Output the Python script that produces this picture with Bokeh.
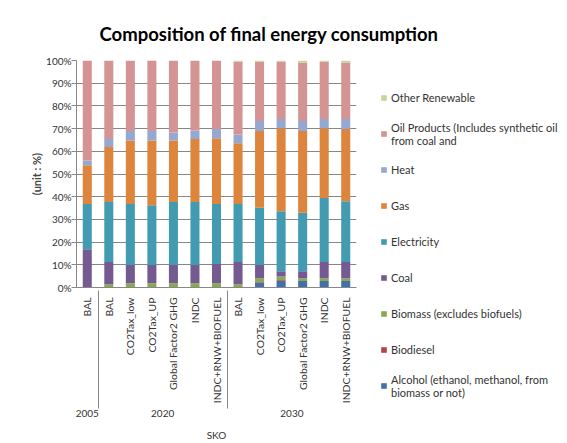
import math
from bokeh.plotting import figure
from bokeh.models import (FactorRange, Range1d, FixedTicker,
                          Legend, LegendItem, ColumnDataSource)
from bokeh.embed import file_html
from bokeh.resources import INLINE

# ---------------- data ----------------
years = ["2005", "2020", "2020", "2020", "2020", "2020", "2020",
         "2030", "2030", "2030", "2030", "2030", "2030"]
scenarios = ["BAL", "BAL", "CO2Tax_low", "CO2Tax_UP", "Global Factor2 GHG", "INDC",
             "INDC+RNW+BIOFUEL", "BAL", "CO2Tax_low", "CO2Tax_UP", "Global Factor2 GHG",
             "INDC", "INDC+RNW+BIOFUEL"]
region = "SKO"

alcohol = [0, 0, 0, 0, 0, 0, 0, 0, 2.0, 3.0, 2.9, 2.9, 2.9]
biodiesel = [0, 0, 0, 0, 0, 0, 0, 0, 0.3, 0.3, 0, 0, 0]
biomass = [0, 1.4, 1.9, 1.9, 1.9, 1.9, 1.9, 1.4, 1.8, 1.6, 1.2, 1.2, 1.2]
coal = [16.8, 9.8, 8.0, 8.0, 8.0, 8.0, 8.4, 9.8, 5.8, 2.3, 3.1, 7.1, 7.1]
electricity = [20.0, 26.5, 26.9, 26.3, 27.8, 27.8, 26.5, 25.6, 25.2, 26.4, 25.7, 28.2, 26.8]
gas = [17.0, 24.2, 28.0, 28.6, 27.1, 27.7, 28.9, 26.8, 33.8, 36.5, 36.0, 30.7, 31.8]
heat = [2.2, 3.5, 4.1, 4.1, 3.5, 3.8, 4.1, 3.8, 4.4, 4.1, 4.4, 4.1, 4.4]
oil_products = [44.0, 34.6, 31.1, 31.1, 31.7, 30.8, 30.2, 32.0, 26.1, 25.2, 25.8, 25.2, 24.9]
other_renewable = [0, 0, 0, 0, 0, 0, 0, 0.6, 0.6, 0.6, 0.9, 0.6, 0.9]

series_keys = ["alcohol", "biodiesel", "biomass", "coal", "electricity", "gas",
               "heat", "oil", "other"]
series_labels = ["Alcohol (ethanol, methanol, from\nbiomass or not)", "Biodiesel",
                 "Biomass (excludes biofuels)", "Coal", "Electricity", "Gas", "Heat",
                 "Oil Products (Includes synthetic oil\nfrom coal and", "Other Renewable"]
series_colors = ["#4170AA", "#B04646", "#8AA84F", "#755A92", "#429BB0", "#DD853C",
                 "#95A8D2", "#D49494", "#C3D69B"]

y_ticks = [0, 10, 20, 30, 40, 50, 60, 70, 80, 90, 100]

# ---------------- figure ----------------
factors = list(zip(years, scenarios))
source = ColumnDataSource(dict(
    x=factors, alcohol=alcohol, biodiesel=biodiesel, biomass=biomass, coal=coal,
    electricity=electricity, gas=gas, heat=heat, oil=oil_products, other=other_renewable))

FONT = "Lato"
GRID = "#878787"

p = figure(x_range=FactorRange(*factors, factor_padding=0, subgroup_padding=0,
                               group_padding=0, range_padding=0),
           y_range=Range1d(0, 100), frame_width=280, frame_height=227,
           output_backend="svg", toolbar_location=None,
           min_border_left=76, min_border_right=150, min_border_top=60,
           min_border_bottom=150)
p.outline_line_color = None
p.background_fill_color = "white"
p.border_fill_color = "white"

renderers = p.vbar_stack(series_keys, x="x", width=0.42, color=series_colors,
                         source=source, line_color=None)

# title
p.title.text = "Composition of final energy consumption"
p.title.text_font = FONT
p.title.text_font_size = "18.5px"
p.title.text_font_style = "bold"
p.title.align = "left"
p.title.offset = 23
p.title.standoff = 31
p.title.text_color = "black"

# y axis
yax = p.yaxis[0]
yax.ticker = FixedTicker(ticks=y_ticks)
yax.major_label_overrides = {t: f"{t}%" for t in y_ticks}
yax.major_label_text_font = FONT
yax.major_label_text_font_size = "10px"
yax.major_label_text_color = "#333333"
yax.major_tick_in = 0
yax.major_tick_out = 5
yax.major_tick_line_color = GRID
yax.minor_tick_line_color = None
yax.axis_line_color = GRID
yax.major_label_standoff = 0
yax.axis_label = "(unit : %)"
yax.axis_label_text_font = FONT
yax.axis_label_text_font_size = "11px"
yax.axis_label_text_font_style = "bold"
yax.axis_label_standoff = 0

p.ygrid.ticker = FixedTicker(ticks=y_ticks)
p.ygrid.grid_line_color = GRID
p.xgrid.grid_line_color = None

# x axis (categorical, two levels)
xax = p.xaxis[0]
xax.major_label_orientation = math.pi / 2
xax.major_label_text_font = FONT
xax.major_label_text_font_size = "10.4px"
xax.major_label_text_color = "#333333"
xax.major_label_standoff = 4
xax.major_tick_line_color = None
xax.minor_tick_line_color = None
xax.axis_line_color = GRID
xax.group_text_font = FONT
xax.group_text_font_size = "10px"
xax.group_text_color = "#333333"
xax.group_text_font_style = "normal"
if "separator_line_color" in xax.properties():
    xax.separator_line_color = GRID
    xax.separator_line_width = 1
xax.axis_label = region
xax.axis_label_text_font = FONT
xax.axis_label_text_font_size = "10px"
xax.axis_label_text_font_style = "normal"
xax.axis_label_text_color = "#333333"
xax.axis_label_standoff = 9

# legend
items = [LegendItem(label=lab, renderers=[r]) for lab, r in zip(series_labels, renderers)]
legend = Legend(items=list(reversed(items)), location="top_left")
legend.label_text_font = FONT
legend.label_text_font_size = "11px"
legend.label_text_color = "#333333"
legend.glyph_width = 7
legend.glyph_height = 7
legend.label_standoff = 4
legend.label_height = 27
legend.spacing = 9
legend.padding = 0
legend.margin = 24
legend.border_line_color = None
legend.background_fill_alpha = 0
p.add_layout(legend, "right")

open("out.html", "w").write(file_html(p, INLINE))
